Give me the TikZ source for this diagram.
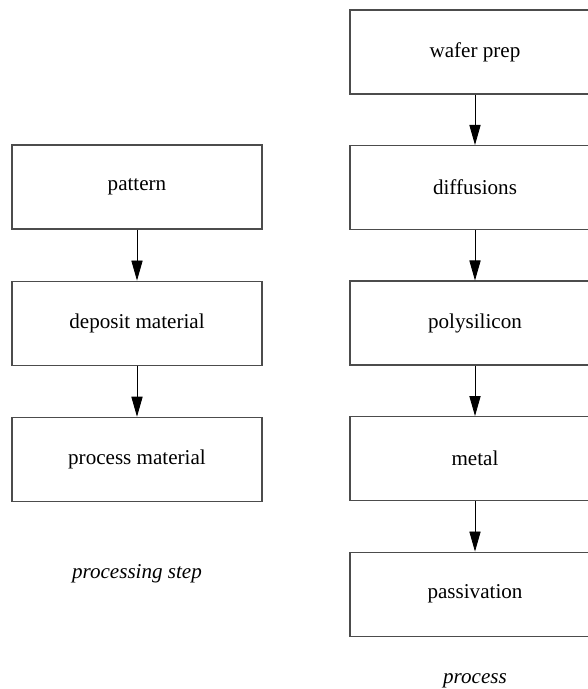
\documentclass[tikz,border=0pt]{standalone}
\usepackage{fontspec}
\setmainfont{Liberation Serif}
\usetikzlibrary{positioning,arrows.meta}

\tikzset{
  stepbox/.style={rectangle, draw=black!70, line width=0.8pt,
    minimum width=6.25cm, minimum height=2.1cm,
    font=\fontsize{15}{18}\selectfont},
  flowarrow/.style={-{Triangle[length=5mm,width=2.8mm]}, line width=0.6pt},
  caption/.style={font=\fontsize{15}{18}\selectfont\itshape, anchor=base}
}

\begin{document}
\begin{tikzpicture}
  \useasboundingbox (0,0) rectangle (14.7,-17.225);
  \clip (0,0) rectangle (14.7,-17.225);

  % a single processing step
  \node[stepbox] (pattern) at (3.425,-4.675) {pattern};
  \node[stepbox, below=1.275cm of pattern] (deposit) {deposit material};
  \node[stepbox, below=1.275cm of deposit] (procmat) {process material};
  \node[caption] (steplabel) at (3.425,-14.45) {processing step};

  % the full process flow
  \node[stepbox] (wafer) at (11.875,-1.3) {wafer prep};
  \node[stepbox, below=1.26cm of wafer] (diffusions) {diffusions};
  \node[stepbox, below=1.26cm of diffusions] (poly) {polysilicon};
  \node[stepbox, below=1.26cm of poly] (metal) {metal};
  \node[stepbox, below=1.26cm of metal] (passivation) {passivation};
  \node[caption] (proclabel) at (11.875,-17.075) {process};

  % arrows
  \draw[flowarrow] (pattern) -- (deposit);
  \draw[flowarrow] (deposit) -- (procmat);
  \draw[flowarrow] (wafer) -- (diffusions);
  \draw[flowarrow] (diffusions) -- (poly);
  \draw[flowarrow] (poly) -- (metal);
  \draw[flowarrow] (metal) -- (passivation);
\end{tikzpicture}
\end{document}
